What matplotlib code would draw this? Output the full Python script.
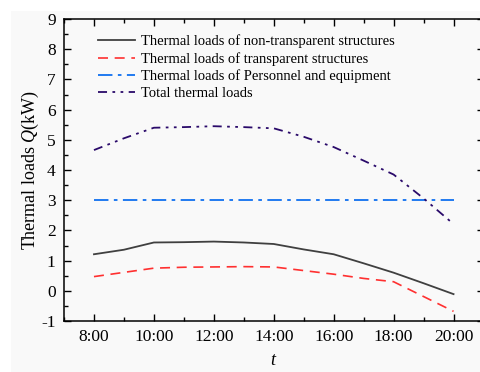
import matplotlib
matplotlib.use("Agg")
import matplotlib.pyplot as plt
from matplotlib.patches import Rectangle
from matplotlib.ticker import MultipleLocator

plt.rcParams['font.family'] = ['Liberation Serif', 'DejaVu Serif']
plt.rcParams['mathtext.fontset'] = 'custom'
plt.rcParams['mathtext.it'] = 'Liberation Serif:italic'
plt.rcParams['mathtext.rm'] = 'Liberation Serif'
plt.rcParams['axes.unicode_minus'] = False

# hourly loads, 8:00 .. 20:00 (kW)
hours = [8, 9, 10, 11, 12, 13, 14, 15, 16, 17, 18, 19, 20]
opaque = [1.21, 1.36, 1.60, 1.61, 1.63, 1.60, 1.55, 1.37, 1.21, 0.91, 0.60, 0.25, -0.11]
glazing = [0.47, 0.61, 0.75, 0.78, 0.79, 0.80, 0.79, 0.67, 0.55, 0.41, 0.30, -0.19, -0.68]
people = [3.0] * len(hours)
total = [4.66, 5.05, 5.40, 5.42, 5.45, 5.42, 5.38, 5.10, 4.76, 4.31, 3.85, 3.06, 2.21]

xticks = [8, 10, 12, 14, 16, 18, 20]
xticklabels = ['8:00', '10:00', '12:00', '14:00', '16:00', '18:00', '20:00']

names = ['Thermal loads of non-transparent structures',
         'Thermal loads of transparent structures',
         'Thermal loads of Personnel and equipment',
         'Total thermal loads']

bg = '#f9f9f9'
fig = plt.figure(figsize=(4.8, 3.72), dpi=100, facecolor='white')
fig.patches.append(Rectangle((11 / 480, 0), 1, 361 / 372, transform=fig.transFigure,
                             facecolor=bg, edgecolor='none', zorder=-10))
ax = fig.add_axes([64 / 480, 51 / 372, 419.5 / 480, 302 / 372])
ax.set_facecolor(bg)

ax.plot(hours, opaque, color='#404040', lw=1.3, label=names[0])
ax.plot(hours, glazing, color='#ff3030', lw=1.2, linestyle=(0, (6, 4)), label=names[1])
ax.plot(hours, people, color='#1070f0', lw=1.3, linestyle=(0, (8, 3, 2, 3)), label=names[2])
ax.plot(hours, total, color='#2a0a6a', lw=1.3, linestyle=(0, (5, 3, 1.5, 3, 1.5, 3)), label=names[3])

ax.set_xlim(7, 21)
ax.set_ylim(-1, 9)
ax.set_xticks(xticks)
ax.set_xticklabels(xticklabels)
ax.xaxis.set_minor_locator(MultipleLocator(1))
ax.yaxis.set_major_locator(MultipleLocator(1))
ax.yaxis.set_minor_locator(MultipleLocator(0.5))
ax.tick_params(which='both', direction='in', top=True, right=True, labelsize=12.5, pad=6)
ax.tick_params(which='major', length=5, width=1)
ax.tick_params(which='minor', length=3, width=1)
for s in ax.spines.values():
    s.set_linewidth(1.1)

ax.set_xlabel('$t$', fontsize=13, labelpad=5)
ax.set_ylabel('Thermal loads $Q$(kW)', fontsize=13, labelpad=0)

ax.legend(loc='upper left', bbox_to_anchor=(0.068, 0.968), frameon=False, fontsize=10.5,
          handlelength=2.5, handletextpad=0.4, labelspacing=0.26, borderaxespad=0)

fig.savefig('out.png', dpi=100, facecolor=fig.get_facecolor())
